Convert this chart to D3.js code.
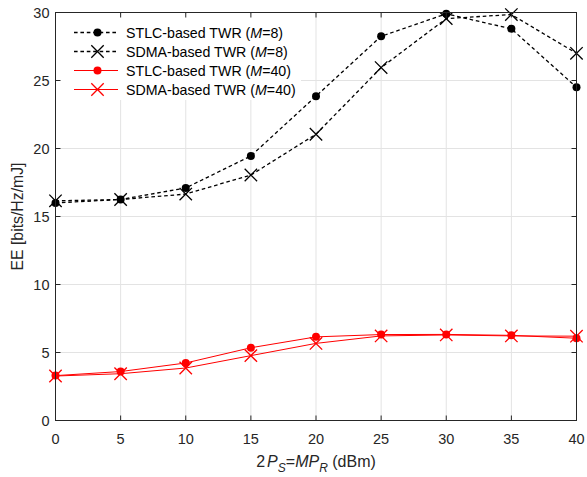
<!DOCTYPE html>
<html>
<head>
<meta charset="utf-8">
<script src="https://cdn.jsdelivr.net/npm/d3@7"></script>
<style>
  body { margin: 0; background: #fff; }
  svg { font-family: "Liberation Sans", Arial, sans-serif; }
</style>
</head>
<body>
<svg id="chart" width="587" height="477"></svg>
<script>
// Transmit power sweep (dBm)
const power = [0, 5, 10, 15, 20, 25, 30, 35, 40];

// Energy efficiency, bits/Hz/mJ
const stlcM8  = [16.0, 16.25, 17.1, 19.45, 23.85, 28.25, 29.9, 28.8, 24.5];
const sdmaM8  = [16.15, 16.25, 16.65, 18.05, 21.05, 25.95, 29.55, 29.85, 27.0];
const stlcM40 = [3.3, 3.6, 4.23, 5.35, 6.15, 6.32, 6.33, 6.26, 6.05];
const sdmaM40 = [3.27, 3.44, 3.86, 4.77, 5.67, 6.22, 6.29, 6.22, 6.2];

const xTicks = [0, 5, 10, 15, 20, 25, 30, 35, 40];
const yTicks = [0, 5, 10, 15, 20, 25, 30];

const seriesList = [
  { name: "STLC-based TWR", m: "8",  values: stlcM8,  color: "#000", dash: "3.6,2.8", marker: "dot" },
  { name: "SDMA-based TWR", m: "8",  values: sdmaM8,  color: "#000", dash: "3.6,2.8", marker: "cross" },
  { name: "STLC-based TWR", m: "40", values: stlcM40, color: "#ff0000", dash: null, marker: "dot" },
  { name: "SDMA-based TWR", m: "40", values: sdmaM40, color: "#ff0000", dash: null, marker: "cross" }
];

const svg = d3.select("#chart");
const L = 55.5, R = 576.5, T = 12.5, B = 420.5;

const x = d3.scaleLinear().domain([0, 40]).range([L, R]);
const y = d3.scaleLinear().domain([0, 30]).range([B, T]);

// grid
const grid = svg.append("g").attr("stroke", "#e3e3e3").attr("stroke-width", 1);
xTicks.forEach(t => grid.append("line").attr("x1", x(t)).attr("x2", x(t)).attr("y1", T).attr("y2", B));
yTicks.forEach(t => grid.append("line").attr("x1", L).attr("x2", R).attr("y1", y(t)).attr("y2", y(t)));

// series
const line = d3.line().x((d, i) => x(power[i])).y(d => y(d));

function drawMarker(g, type, cx, cy, color) {
  if (type === "dot") {
    g.append("circle").attr("cx", cx).attr("cy", cy).attr("r", 4).attr("fill", color);
  } else {
    const s = 6.2;
    g.append("path")
      .attr("d", `M${cx - s},${cy - s}L${cx + s},${cy + s}M${cx - s},${cy + s}L${cx + s},${cy - s}`)
      .attr("stroke", color).attr("stroke-width", 1.3).attr("fill", "none");
  }
}

seriesList.forEach(s => {
  const g = svg.append("g");
  g.append("path")
    .attr("d", line(s.values))
    .attr("fill", "none")
    .attr("stroke", s.color)
    .attr("stroke-width", s.dash ? 1.3 : 1)
    .attr("stroke-dasharray", s.dash);
  s.values.forEach((v, i) => drawMarker(g, s.marker, x(power[i]), y(v), s.color));
});

// legend
const leg = svg.append("g");
leg.append("rect").attr("x", 58).attr("y", 14).attr("width", 243).attr("height", 86).attr("fill", "#fff");
seriesList.forEach((s, i) => {
  const cy = 32.5 + i * 19;
  leg.append("line").attr("x1", 74).attr("x2", 118).attr("y1", cy).attr("y2", cy)
    .attr("stroke", s.color).attr("stroke-width", s.dash ? 1.3 : 1).attr("stroke-dasharray", s.dash);
  drawMarker(leg, s.marker, 97.5, cy, s.color);
  const t = leg.append("text").attr("x", 126).attr("y", cy + 5).attr("font-size", 14.2).attr("fill", "#000");
  t.append("tspan").text(s.name + " (");
  t.append("tspan").attr("font-style", "italic").text("M");
  t.append("tspan").text("=" + s.m + ")");
});

// axes box with inward ticks
const axisColor = "#262626";
const ax = svg.append("g").attr("stroke", axisColor).attr("stroke-width", 1).attr("fill", "none");
ax.append("rect").attr("x", L).attr("y", T).attr("width", R - L).attr("height", B - T);
const tl = 5;
xTicks.forEach(t => {
  ax.append("line").attr("x1", x(t)).attr("x2", x(t)).attr("y1", B).attr("y2", B - tl);
  ax.append("line").attr("x1", x(t)).attr("x2", x(t)).attr("y1", T).attr("y2", T + tl);
});
yTicks.forEach(t => {
  ax.append("line").attr("x1", L).attr("x2", L + tl).attr("y1", y(t)).attr("y2", y(t));
  ax.append("line").attr("x1", R).attr("x2", R - tl).attr("y1", y(t)).attr("y2", y(t));
});

// tick labels
const lab = svg.append("g").attr("font-size", 14.5).attr("fill", "#262626");
xTicks.forEach(t => lab.append("text").attr("x", x(t)).attr("y", B + 23).attr("text-anchor", "middle").text(t));
yTicks.forEach(t => lab.append("text").attr("x", L - 6).attr("y", y(t) + 5).attr("text-anchor", "end").text(t));

// axis titles
const xl = svg.append("text").attr("x", 316).attr("y", 467).attr("text-anchor", "middle")
  .attr("font-size", 16).attr("fill", "#262626");
xl.append("tspan").text("2");
xl.append("tspan").attr("font-style", "italic").attr("dx", 2).text("P");
xl.append("tspan").attr("font-style", "italic").attr("font-size", 12).attr("dy", 5).text("S");
xl.append("tspan").attr("dy", -5).text("=");
xl.append("tspan").attr("font-style", "italic").text("MP");
xl.append("tspan").attr("font-style", "italic").attr("font-size", 12).attr("dy", 5).text("R");
xl.append("tspan").attr("dy", -5).text(" (dBm)");

svg.append("text").attr("transform", "translate(23,216.5) rotate(-90)")
  .attr("text-anchor", "middle").attr("font-size", 15.8).attr("fill", "#262626")
  .text("EE [bits/Hz/mJ]");
</script>
</body>
</html>
